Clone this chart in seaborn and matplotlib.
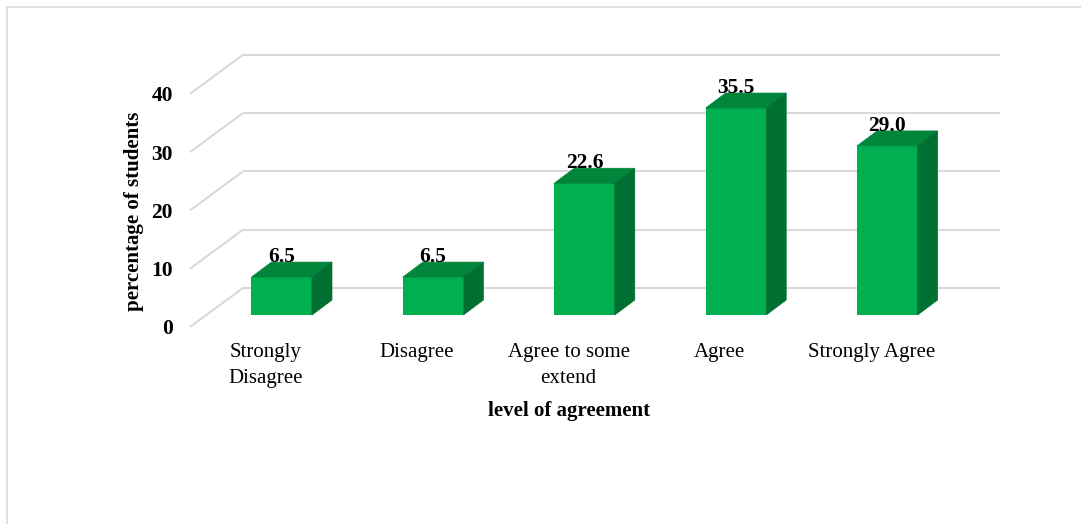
import matplotlib
matplotlib.use("Agg")
import matplotlib.pyplot as plt
from matplotlib.patches import Polygon
from matplotlib.lines import Line2D
import seaborn as sns
import pandas as pd

# Survey results: share of students at each level of agreement
categories = ["Strongly\nDisagree", "Disagree", "Agree to some\nextend", "Agree", "Strongly Agree"]
percentages = [6.5, 6.5, 22.6, 35.5, 29.0]
y_ticks = [0, 10, 20, 30, 40]

sns.set_theme(style="white")
plt.rcParams["font.family"] = ["Liberation Serif", "DejaVu Serif"]

W, H = 1081, 524
fig = plt.figure(figsize=(W / 100, H / 100), dpi=100)
fig.patch.set_facecolor("white")

# Axes placed in pixel terms: the bar plane spans x 206..963, value 0 at y=315
ax_left, ax_right = 206, 963
px_zero, px_unit = 315, 5.83
y_lo, y_hi = -3, 40
ax_bottom_px = px_zero - y_lo * px_unit
ax_top_px = px_zero - y_hi * px_unit
ax = fig.add_axes([ax_left / W, (H - ax_bottom_px) / H,
                   (ax_right - ax_left) / W, (ax_bottom_px - ax_top_px) / H])

FRONT = "#00B050"
TOP = "#00863B"
SIDE = "#007032"
GRID = "#D9D9D9"

df = pd.DataFrame({"level": categories, "pct": percentages})
sns.barplot(data=df, x="level", y="pct", color=FRONT, saturation=1,
            width=0.4, ax=ax, zorder=3, linewidth=0)

ax.set_xlim(-0.5, 4.5)
ax.set_ylim(y_lo, y_hi)
for s in ax.spines.values():
    s.set_visible(False)


def px_to_data(dx_px, dy_px):
    inv = ax.transData.inverted()
    x0, y0 = inv.transform((0, 0))
    x1, y1 = inv.transform((dx_px, dy_px))
    return x1 - x0, y1 - y0


# Perspective offsets: floor front edge, back wall, and bar depth
front_dx, front_dy = px_to_data(-16, -12)
back_dx, back_dy = px_to_data(37, 27)
depth_dx, depth_dy = px_to_data(20, 15)
_, label_dy = px_to_data(0, 15)

# Back-wall gridlines with the slanted side-wall segments
for v in y_ticks:
    ax.plot([-0.5 + back_dx, 4.5 + back_dx], [v + back_dy, v + back_dy],
            color=GRID, lw=1.5, zorder=1, clip_on=False, solid_capstyle="butt")
    ax.plot([-0.5 + front_dx, -0.5 + back_dx], [v + front_dy, v + back_dy],
            color=GRID, lw=1.5, zorder=1, clip_on=False, solid_capstyle="butt")

# Top and side faces give each bar its depth
for bar, v in zip(ax.patches, percentages):
    x0 = bar.get_x()
    x1 = x0 + bar.get_width()
    h = bar.get_height()
    top = Polygon([(x0, h), (x1, h), (x1 + depth_dx, h + depth_dy), (x0 + depth_dx, h + depth_dy)],
                  closed=True, facecolor=TOP, edgecolor=TOP, lw=0.5, zorder=3, clip_on=False)
    side = Polygon([(x1, 0), (x1 + depth_dx, depth_dy), (x1 + depth_dx, h + depth_dy), (x1, h)],
                   closed=True, facecolor=SIDE, edgecolor=SIDE, lw=0.5, zorder=3, clip_on=False)
    ax.add_patch(top)
    ax.add_patch(side)
    ax.text(x0 + bar.get_width() / 2, h + label_dy, f"{v:.1f}", ha="center", va="baseline",
            fontsize=15.5, fontweight="bold", color="black", zorder=5, clip_on=False)

# Tick labels sit on the front edge of the floor
ax.set_yticks([v + front_dy for v in y_ticks], labels=[str(v) for v in y_ticks],
              fontsize=15.5, fontweight="bold", color="black")
ax.set_xticks([i + front_dx for i in range(len(categories))], labels=categories,
              fontsize=15, color="black", linespacing=1.45)
ax.tick_params(axis="y", length=0, pad=33 * 0.72)
ax.tick_params(axis="x", length=0, pad=11 * 0.72)

ax.set_xlabel("level of agreement", fontsize=15, fontweight="bold", color="black")
ax.xaxis.set_label_coords((569.5 - ax_left) / (ax_right - ax_left),
                          (ax_bottom_px - 401) / (ax_bottom_px - ax_top_px))
ax.set_ylabel("percentage of students", fontsize=15, fontweight="bold", color="black")
ax.yaxis.set_label_coords((144 - ax_left) / (ax_right - ax_left),
                          (ax_bottom_px - 211) / (ax_bottom_px - ax_top_px))

# Chart-area border
fig.add_artist(Line2D([7 / W, 1], [1 - 7 / H, 1 - 7 / H], transform=fig.transFigure,
                      color=GRID, lw=1.2))
fig.add_artist(Line2D([7 / W, 7 / W], [0, 1 - 7 / H], transform=fig.transFigure,
                      color=GRID, lw=1.2))

fig.savefig("out.png", dpi=100, facecolor="white")
